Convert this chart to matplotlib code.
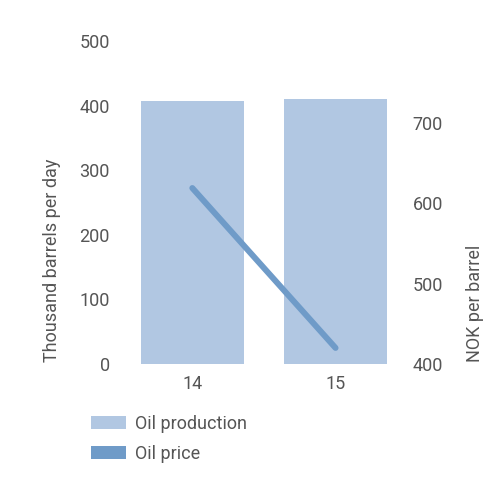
import matplotlib
matplotlib.use("Agg")
from matplotlib import pyplot as plt
from matplotlib.patches import Patch

plt.rcParams['font.family'] = ['Roboto', 'DejaVu Sans']

years = [14, 15]
production = [407, 410]
price = [619, 420]

bar_color = '#b1c7e2'
line_color = '#6f9bc8'
text_color = '#555555'

fig = plt.figure(figsize=(5, 5), dpi=100)
ax = fig.add_axes([0.25, 0.272, 0.55, 0.646])
ax2 = ax.twinx()

ax.bar(years, production, width=0.72, color=bar_color, zorder=1)
ax2.plot(years, price, color=line_color, linewidth=4.3, solid_capstyle='round', zorder=3)

ax.set_xlim(13.53, 15.45)
ax.set_ylim(0, 500)
ax.set_yticks([0, 100, 200, 300, 400, 500])
ax.set_xticks(years)
ax2.set_ylim(400, 802)
ax2.set_yticks([400, 500, 600, 700])

for a in (ax, ax2):
    for s in a.spines.values():
        s.set_visible(False)
    a.tick_params(length=0, labelsize=13, colors=text_color)
ax.tick_params(axis='y', pad=11)
ax2.tick_params(axis='y', pad=9)
ax.tick_params(axis='x', pad=8)

fig.text(0.104, 0.276, 'Thousand barrels per day', rotation=90, ha='center', va='bottom',
         fontsize=13, color=text_color)
fig.text(0.95, 0.276, 'NOK per barrel', rotation=90, ha='center', va='bottom',
         fontsize=13, color=text_color)

handles = [Patch(facecolor=bar_color, edgecolor='none'), Patch(facecolor=line_color, edgecolor='none')]
fig.legend(handles, ['Oil production', 'Oil price'], loc='upper left',
           bbox_to_anchor=(0.182, 0.17), frameon=False, fontsize=13,
           handlelength=1.95, handleheight=0.7, handletextpad=0.5, labelspacing=0.65,
           labelcolor=text_color, borderpad=0, borderaxespad=0)

fig.savefig('out.png', dpi=100)
